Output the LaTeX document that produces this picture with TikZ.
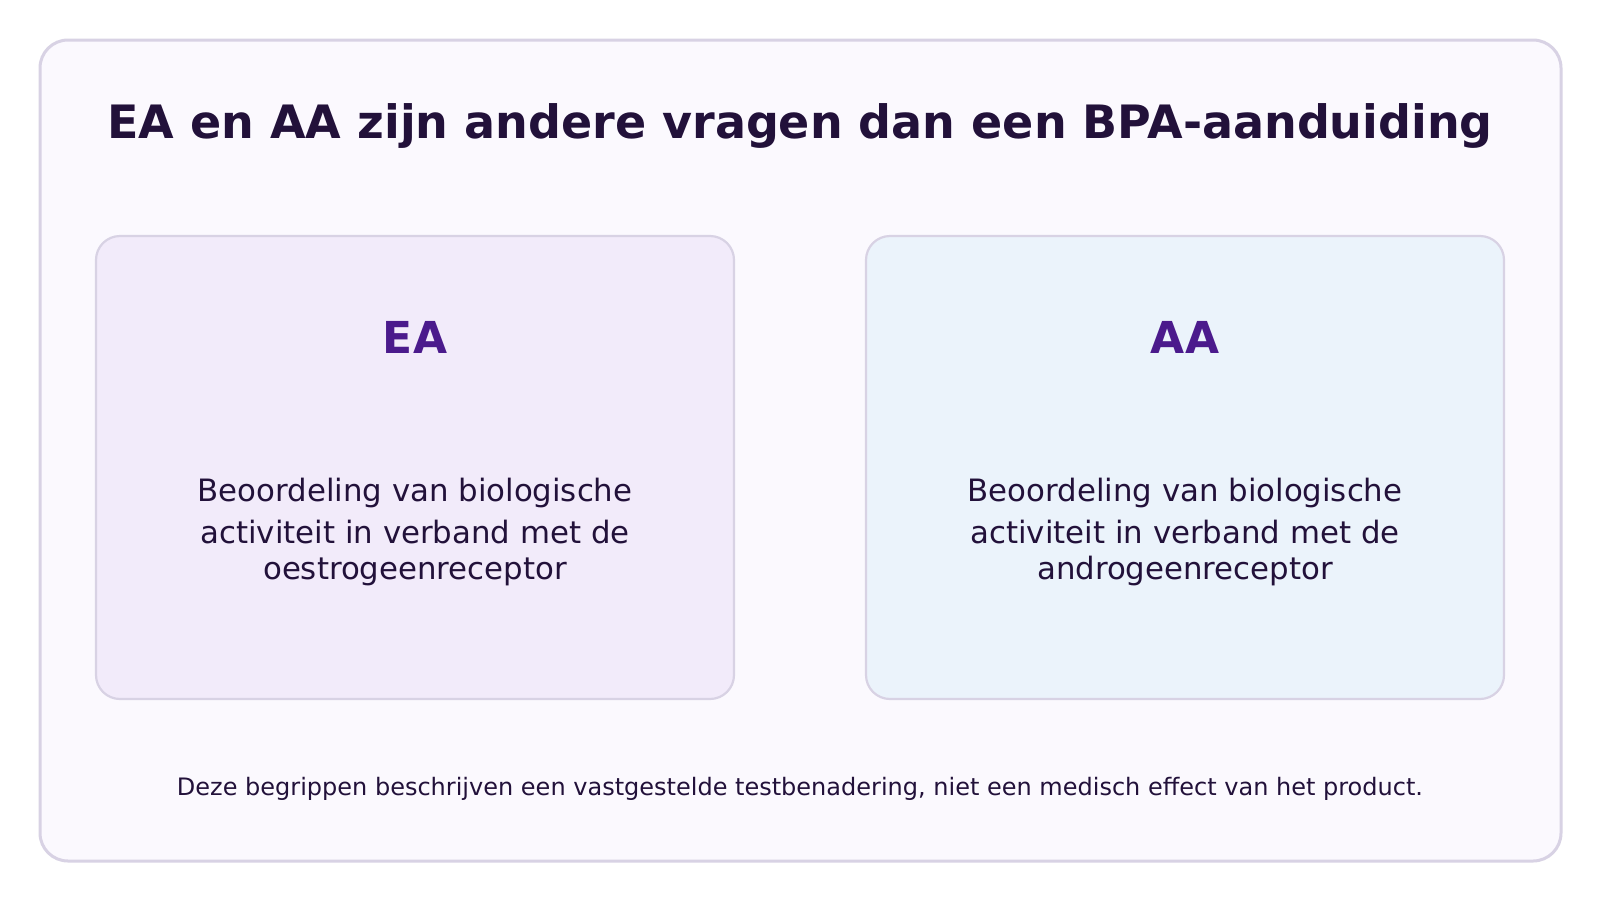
\documentclass[tikz,border=0pt]{standalone}
\usepackage{fontspec}
\setmainfont{DejaVu Sans}
\definecolor{outerfill}{HTML}{FBF9FE}
\definecolor{outerdraw}{HTML}{D8D2E4}
\definecolor{leftfill}{HTML}{F2EBFA}
\definecolor{rightfill}{HTML}{EBF3FB}
\definecolor{ink}{HTML}{22113A}
\definecolor{accent}{HTML}{4B1A8C}
\tikzset{
  panel/.style={draw=outerdraw, line width=2.2pt, rounded corners=24pt},
  titletext/.style={anchor=base, text=ink, font=\fontsize{46}{52}\selectfont\bfseries, inner sep=0pt},
  headtext/.style={anchor=base, text=accent, font=\fontsize{44}{52}\selectfont\bfseries, inner sep=0pt},
  bodytext/.style={anchor=base, text=ink, font=\fontsize{30.8}{34}\selectfont, inner sep=0pt},
  foottext/.style={anchor=base, text=ink, font=\fontsize{24}{28}\selectfont, inner sep=0pt},
}
\begin{document}
\begin{tikzpicture}[x=1pt,y=-1pt]
\useasboundingbox[fill=white] (0,0) rectangle (1600,900);
\draw[panel, fill=outerfill, line width=3pt, rounded corners=28pt] (40,40) rectangle (1561,861);
\node[titletext] (title) at (800,138) {EA en AA zijn andere vragen dan een BPA-aanduiding};
\draw[panel, fill=leftfill] (96,236) rectangle (734,699);
\draw[panel, fill=rightfill] (866,236) rectangle (1504,699);
\node[headtext] (ea) at (415,353) {EA};
\node[headtext] (aa) at (1185,353) {AA};
\node[bodytext] (l1) at (415,501.5) {Beoordeling van biologische};
\node[bodytext] (l2) at (415,543) {activiteit in verband met de};
\node[bodytext] (l3) at (415,579.5) {oestrogeenreceptor};
\node[bodytext] (r1) at (1185,501.5) {Beoordeling van biologische};
\node[bodytext] (r2) at (1185,543) {activiteit in verband met de};
\node[bodytext] (r3) at (1185,579.5) {androgeenreceptor};
\node[foottext] (foot) at (800,795.5) {Deze begrippen beschrijven een vastgestelde testbenadering, niet een medisch effect van het product.};
\end{tikzpicture}
\end{document}
